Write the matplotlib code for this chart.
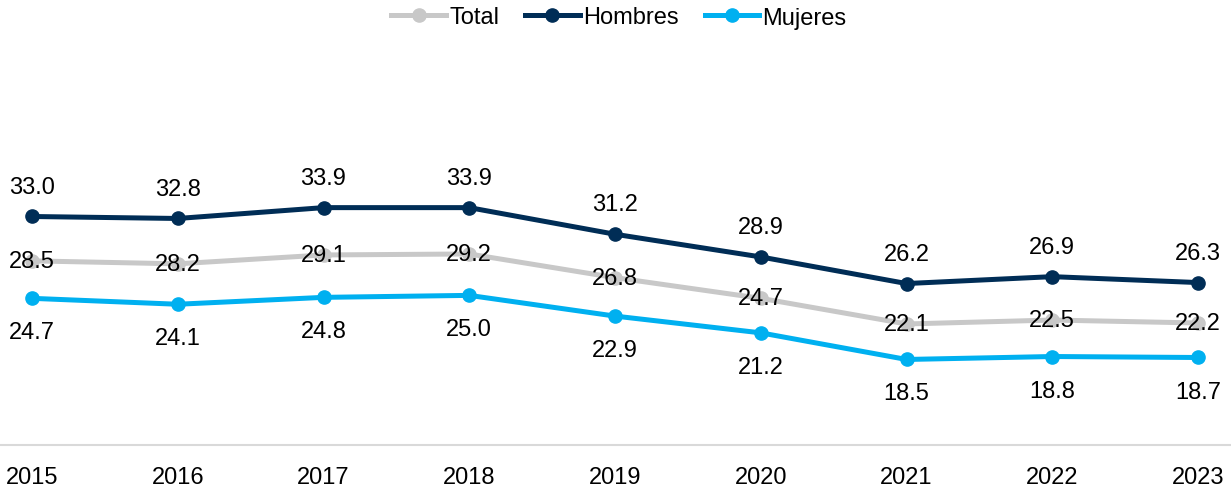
import matplotlib
matplotlib.use("Agg")
import matplotlib.pyplot as plt

plt.rcParams['font.family'] = ['Liberation Sans', 'DejaVu Sans']

years = ["2015", "2016", "2017", "2018", "2019", "2020", "2021", "2022", "2023"]
total = [28.5, 28.2, 29.1, 29.2, 26.8, 24.7, 22.1, 22.5, 22.2]
hombres = [33.0, 32.8, 33.9, 33.9, 31.2, 28.9, 26.2, 26.9, 26.3]
mujeres = [24.7, 24.1, 24.8, 25.0, 22.9, 21.2, 18.5, 18.8, 18.7]

c_total = "#c8c8c8"
c_hom = "#002d56"
c_muj = "#00b0f0"

W, H = 1231, 489
fig = plt.figure(figsize=(W / 100, H / 100), dpi=100)

# plot area in pixels: axis line at y=446, top at y=40
ax = fig.add_axes([0, (H - 446) / H, 1, (446 - 40) / H])

x = list(range(len(years)))
lw, ms = 3.6, 9.5
ax.plot(x, total, color=c_total, lw=lw, marker="o", ms=ms, label="Total", zorder=2)
ax.plot(x, hombres, color=c_hom, lw=lw, marker="o", ms=ms, label="Hombres", zorder=3)
ax.plot(x, mujeres, color=c_muj, lw=lw, marker="o", ms=ms, label="Mujeres", zorder=3)

fs = 17
for i in x:
    ax.annotate(f"{hombres[i]:.1f}", (i, hombres[i]), xytext=(0, 21.5),
                textcoords="offset points", ha="center", va="center", fontsize=fs)
    ax.annotate(f"{total[i]:.1f}", (i, total[i]), xytext=(0, 0),
                textcoords="offset points", ha="center", va="center", fontsize=fs, zorder=4)
    ax.annotate(f"{mujeres[i]:.1f}", (i, mujeres[i]), xytext=(0, -24.5),
                textcoords="offset points", ha="center", va="center", fontsize=fs)

# scale: 9.86 px per unit, 33.0 at y=217
ppu = 9.86
ax.set_ylim(33 - (446 - 217.5) / ppu, 33 + (217.5 - 40) / ppu)
sp = (1198 - 32) / 8
ax.set_xlim(-32 / sp, (W - 32) / sp)

ax.set_xticks(x)
ax.set_xticklabels(years, fontsize=fs)
ax.set_yticks([])
ax.tick_params(axis="x", length=0, pad=15)
for s in ["top", "right", "left"]:
    ax.spines[s].set_visible(False)
ax.spines["bottom"].set_color("#d9d9d9")
ax.spines["bottom"].set_linewidth(1.5)

fig.legend(loc="center", bbox_to_anchor=(619 / W, 1 - 18.5 / H), ncol=3, frameon=False,
           fontsize=fs, handlelength=2.3, handletextpad=0.15, columnspacing=1.1,
           borderaxespad=0, borderpad=0)

fig.savefig("out.png", dpi=100)
